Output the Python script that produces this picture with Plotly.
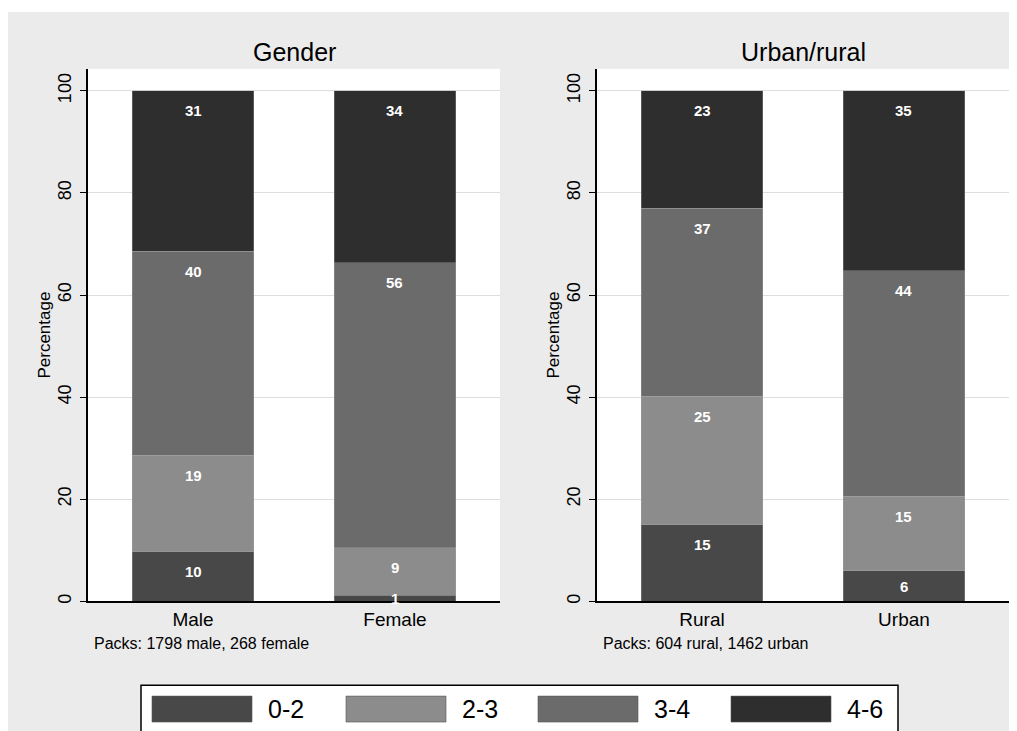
import plotly.graph_objects as go

# ---------------- data ----------------
bands = ["0-2", "2-3", "3-4", "4-6"]
band_colors = ["#484848", "#8c8c8c", "#6b6b6b", "#2e2e2e"]

gender_categories = ["Male", "Female"]
gender_0_2 = [9.7, 1.2]
gender_2_3 = [18.9, 9.3]
gender_3_4 = [40.0, 55.8]
gender_4_6 = [31.4, 33.7]

area_categories = ["Rural", "Urban"]
area_0_2 = [15.0, 6.0]
area_2_3 = [25.2, 14.6]
area_3_4 = [36.8, 44.2]
area_4_6 = [23.0, 35.2]

panel_titles = ["Gender", "Urban/rural"]
panel_notes = ["Packs: 1798 male, 268 female", "Packs: 604 rural, 1462 urban"]
y_ticks = [0, 20, 40, 60, 80, 100]

# ---------------- layout constants ----------------
W, H = 1017, 731
OFF = 8  # page body margin
FONT = "Liberation Sans, Arial, sans-serif"
BG = "#ebebeb"

def px_x(x):
    return (x - OFF) / W

def px_y(y):
    return 1 - (y - OFF) / H

y_dom = [px_y(603), px_y(69)]
x_dom_left = [px_x(88), px_x(500)]
x_dom_right = [px_x(597), px_x(1009)]

fig = go.Figure()

panels = [
    ("x", "y", gender_categories, [gender_0_2, gender_2_3, gender_3_4, gender_4_6]),
    ("x2", "y2", area_categories, [area_0_2, area_2_3, area_3_4, area_4_6]),
]

annotations = []
for xa, ya, cats, series in panels:
    bases = [0.0] * len(cats)
    for band, color, vals in zip(bands, band_colors, series):
        fig.add_trace(go.Bar(
            x=cats, y=vals, name=band, xaxis=xa, yaxis=ya,
            marker=dict(color=color, line=dict(color="rgba(170,170,170,0.6)", width=0.6)),
            width=0.6, showlegend=False, hoverinfo="skip",
        ))
        for i, (c, v) in enumerate(zip(cats, vals)):
            top = bases[i] + v
            ylab = max(top - 3.9, bases[i] + v / 2)
            annotations.append(dict(
                x=c, y=ylab, xref=xa, yref=ya, text="<b>%d</b>" % int(round(v)),
                showarrow=False, xanchor="center", yanchor="middle",
                font=dict(family=FONT, size=15, color="white"),
            ))
            bases[i] = top

axis_common_y = dict(
    range=[0, 104.3], tickvals=y_ticks, tickangle=-90,
    showline=True, linecolor="black", linewidth=1.5,
    ticks="outside", ticklen=6, tickcolor="black", tickwidth=1.2,
    ticklabelstandoff=2,
    showgrid=True, gridcolor="#dedede", gridwidth=1,
    zeroline=False, domain=y_dom,
    tickfont=dict(family=FONT, size=18, color="black"),
    title=dict(text="Percentage", font=dict(family=FONT, size=17, color="black"), standoff=0),
)
axis_common_x = dict(
    range=[-0.52, 1.52], showline=True, linecolor="black", linewidth=1.5,
    ticks="", showgrid=False, zeroline=False,
    tickfont=dict(family=FONT, size=19, color="black"),
)

fig.update_layout(
    width=W, height=H,
    margin=dict(l=0, r=0, t=0, b=0),
    paper_bgcolor=BG, plot_bgcolor="white",
    barmode="stack", bargap=0.4,
    xaxis=dict(domain=x_dom_left, anchor="y", **axis_common_x),
    yaxis=dict(anchor="x", **axis_common_y),
    xaxis2=dict(domain=x_dom_right, anchor="y2", **axis_common_x),
    yaxis2=dict(anchor="x2", **axis_common_y),
    showlegend=False,
)

# panel titles and notes
for dom, title, note in zip([x_dom_left, x_dom_right], panel_titles, panel_notes):
    annotations.append(dict(
        x=(dom[0] + dom[1]) / 2, y=px_y(52), xref="paper", yref="paper",
        text=title, showarrow=False, xanchor="center", yanchor="middle",
        font=dict(family=FONT, size=25, color="black"),
    ))
    annotations.append(dict(
        x=dom[0] + 4 / W, y=px_y(645), xref="paper", yref="paper",
        text=note, showarrow=False, xanchor="left", yanchor="middle",
        font=dict(family=FONT, size=16, color="black"),
    ))

shapes = [
    # thin white strip at the top
    dict(type="rect", xref="paper", yref="paper", x0=0, x1=1, y0=px_y(12), y1=1,
         fillcolor="white", line=dict(width=0), layer="below"),
    # legend box
    dict(type="rect", xref="paper", yref="paper", x0=px_x(141), x1=px_x(898),
         y0=px_y(745), y1=px_y(687), fillcolor="white",
         line=dict(color="black", width=1.5)),
]

# legend entries (swatch + label)
swatch_x = [152, 346, 538, 731]
for band, color, sx in zip(bands, band_colors, swatch_x):
    shapes.append(dict(type="rect", xref="paper", yref="paper",
                       x0=px_x(sx), x1=px_x(sx + 100), y0=px_y(724), y1=px_y(698),
                       fillcolor=color, line=dict(color="#555555", width=0.6)))
    annotations.append(dict(
        x=px_x(sx + 114), y=px_y(711), xref="paper", yref="paper",
        text=band, showarrow=False, xanchor="left", yanchor="middle",
        font=dict(family=FONT, size=25, color="black"),
    ))

fig.update_layout(annotations=annotations, shapes=shapes)

fig.write_html("out.html")
